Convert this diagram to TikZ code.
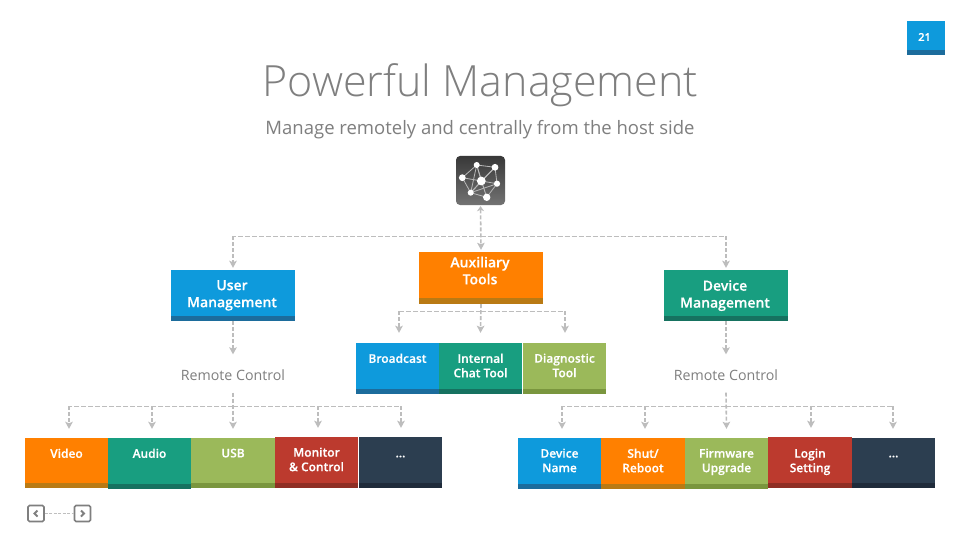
\documentclass[tikz,border=0pt]{standalone}
\usepackage{fontspec}
\setmainfont{Open Sans}
\newfontfamily\lightfont{Open Sans Light}
\newfontfamily\semifont[FakeBold=0.3]{Open Sans Semibold}
\usetikzlibrary{arrows.meta,calc}
\definecolor{cblue}{HTML}{0E9ADC}\definecolor{cblueb}{HTML}{1C6C9C}
\definecolor{corange}{HTML}{FF8000}\definecolor{corangeb}{HTML}{B97A14}
\definecolor{cteal}{HTML}{189E80}\definecolor{ctealb}{HTML}{167260}
\definecolor{cgreen}{HTML}{9BB95A}\definecolor{cgreenb}{HTML}{7A963E}
\definecolor{cred}{HTML}{BC3A2E}\definecolor{credb}{HTML}{8F2E24}
\definecolor{cnavy}{HTML}{2C3E50}\definecolor{cnavyb}{HTML}{1F2B3A}
\definecolor{cline}{HTML}{BDBDBD}\definecolor{ctext}{HTML}{7F7F7F}
\tikzset{
  x=1pt,y=-1pt,
  boxlabel/.style={text=white,font=\semifont\fontsize{12}{14.5}\selectfont,align=center,anchor=north,inner sep=0pt},
  headlabel/.style={text=white,font=\semifont\fontsize{14}{17}\selectfont,align=center,anchor=north,inner sep=0pt},
  plainlabel/.style={text=ctext,font=\fontsize{14.2}{17}\selectfont,inner sep=1pt},
  hline/.style={draw=cline,line width=.9pt,dash pattern=on 5pt off 2pt},
  arrowline/.style={draw=cline,line width=1.6pt,dash pattern=on 4pt off 2pt,-{Stealth[length=7pt,width=7.5pt,inset=1.5pt,fill=cline]}},
  netedge/.style={draw=white!72!black,line width=.8pt},
  netdot/.style={circle,fill=white,inner sep=0pt},
  navbox/.style={draw=ctext,line width=1.6pt,rounded corners=1.5pt,minimum width=16pt,minimum height=16pt,inner sep=0pt},
  navchev/.style={draw=ctext,line width=1.8pt},
}
% name, x1, y1, x2, y2, colour, band height, text y, text
\newcommand{\bx}[9]{%
  \fill[#6b] (#2,#3) rectangle (#4,#5);
  \fill[#6] (#2,#3) rectangle (#4,#5-#7);
  \node[minimum width=#4pt-#2pt,minimum height=#5pt-#3pt,inner sep=0pt] (#1) at ({(#2+#4)/2},{(#3+#5)/2}) {};
  \bxtext{#1}{#8}{#9}}
\newcommand{\bxtext}[3]{\node[boxlabel] (#1-t) at (#1.center |- 0,#2) {\vphantom{Ay}#3};}
\begin{document}
\begin{tikzpicture}
\useasboundingbox (0,0) rectangle (960,540);
\fill[white] (0,0) rectangle (960,540);

% page number
\fill[cblueb] (907,21) rectangle (945,55);
\fill[cblue] (907,21) rectangle (945,50);
\node[text=white,font=\semifont\fontsize{11}{13}\selectfont,inner sep=0pt] (page) at (924.5,37) {21};

\node[text=ctext,font=\lightfont\fontsize{43}{50}\selectfont,inner sep=0pt] (title) at (480.5,85) {Powerful Management};
\node[text=ctext,font=\fontsize{18.5}{22}\selectfont,inner sep=0pt] (sub) at (480,129.5) {Manage remotely and centrally from the host side};

% network icon
\node[minimum width=49pt,minimum height=49pt,inner sep=0pt,rounded corners=4pt,
  top color=black!78,bottom color=black!55,shade] (icon) at (480.5,180.5) {};
\coordinate (n1) at (476.7,165);\coordinate (n2) at (495,167.3);\coordinate (n3) at (462.3,177.7);
\coordinate (n4) at (481.3,181);\coordinate (n5) at (497,183.7);\coordinate (n6) at (470.7,192.7);\coordinate (n7) at (486.7,197.3);
\draw[netedge] (n1)--(n2)--(n5)--(n7)--(n6)--(n3)--(n1)--(n6);
\draw[netedge] (n1)--(n4)--(n5)--(n6)--(n4)--(n3)--(n5);
\draw[netedge] (n2)--(n4)--(n7)--(n1);\draw[netedge] (n2)--(n6);
\foreach \p/\r in {n1/3,n2/3.4,n3/3.4,n4/4.4,n5/3.1,n6/3,n7/3.7}
  \node[netdot,minimum size=2*\r pt] at (\p) {};

% boxes, row 1
\bx{user}{171}{270}{295}{321}{cblue}{5}{0}{}
\bx{aux}{419}{252}{543}{304}{corange}{6}{0}{}
\bx{dev}{664}{270}{788}{321}{cteal}{5}{0}{}
\node[headlabel] (user-l) at (232,280) {User\\Management};
\node[headlabel] (aux-l) at (480,256.5) {Auxiliary\\Tools};
\node[headlabel] (dev-l) at (725,280) {Device\\Management};

% boxes, row 2
\bx{bc}{356}{343}{439}{394}{cblue}{5}{353.5}{Broadcast}
\bx{chat}{439}{343}{522}{394}{cteal}{5}{353.5}{Internal\\Chat Tool}
\bx{diag}{523}{343}{606}{394}{cgreen}{5}{353.5}{Diagnostic\\Tool}

% boxes, row 3 left
\bx{video}{25}{438}{108}{488}{corange}{5}{448.5}{Video}
\bx{audio}{108}{438}{191}{489}{cteal}{5}{448.5}{Audio}
\bx{usb}{191}{438}{275}{488}{cgreen}{5}{448.5}{USB}
\bx{mon}{275}{437}{358}{488}{cred}{5}{447.5}{Monitor\\\& Control}
\bx{more}{359}{437}{442}{488}{cnavy}{5}{448.5}{...}
% boxes, row 3 right
\bx{name}{518}{438}{601}{489}{cblue}{5}{448.5}{Device\\Name}
\bx{shut}{601}{438}{685}{489}{corange}{5}{448.5}{Shut/\\Reboot}
\bx{firm}{685}{438}{768}{489}{cgreen}{5}{448.5}{Firmware\\Upgrade}
\bx{login}{768}{437}{852}{488}{cred}{5}{448.5}{Login\\Setting}
\bx{more2}{852}{438}{935}{488}{cnavy}{5}{448.5}{...}

\node[plainlabel] (rcl) at (233,375) {Remote Control};
\node[plainlabel] (rcr) at (726,375) {Remote Control};

% routing points
\coordinate (hubtop) at (480.5,236);
\coordinate (hubaux) at (480.5,311);
\coordinate (hubl) at (233,406);
\coordinate (hubr) at (726,406);

% connectors, top
\draw[arrowline,{Stealth[length=5pt,width=7pt,inset=1.5pt,fill=cline]}-{Stealth[length=7pt,width=7.5pt,inset=1.5pt,fill=cline]}] ([yshift=-1pt]icon.south) -- ([yshift=2pt]aux.north);
\draw[hline] (hubtop) -- (hubtop -| user.north);
\draw[hline] (hubtop) -- (hubtop -| dev.north);
\draw[arrowline] (hubtop -| user.north) -- ([yshift=2pt]user.north);
\draw[arrowline] (hubtop -| dev.north) -- ([yshift=2pt]dev.north);
% connectors, auxiliary
\draw[arrowline] (aux.south) -- ([yshift=10pt]chat.north);
\coordinate (bcin) at ([xshift=1.5pt,yshift=10pt]bc.north);
\coordinate (diagin) at ([xshift=.5pt,yshift=10pt]diag.north);
\draw[hline] (hubaux) -- (hubaux -| bcin);
\draw[hline] (hubaux) -- (hubaux -| diagin);
\draw[arrowline] (hubaux -| bcin) -- (bcin);
\draw[arrowline] (hubaux -| diagin) -- (diagin);
% connectors, management to label
\draw[arrowline] (user.south) -- ([yshift=14pt]rcl.north);
\draw[arrowline] (dev.south) -- ([yshift=14pt]rcr.north);
% connectors, left fan
\draw[arrowline] ([yshift=-11pt]rcl.south) -- ([yshift=9pt]usb.north);
\foreach \t/\s in {video/2.5,audio/2.5,mon/1.5,more/.5}{
  \coordinate (in) at ([xshift=\s pt,yshift=9pt]\t.north);
  \draw[hline] (hubl) -- (hubl -| in);
  \draw[arrowline] (hubl -| in) -- (in);}
% connectors, right fan
\draw[arrowline] ([yshift=-11pt]rcr.south) -- ([yshift=9pt]firm.north);
\foreach \t/\s in {name/2.5,shut/2,login/1,more2/-.5}{
  \coordinate (in) at ([xshift=\s pt,yshift=9pt]\t.north);
  \draw[hline] (hubr) -- (hubr -| in);
  \draw[arrowline] (hubr -| in) -- (in);}

% navigation
\node[navbox] (prev) at (36,513.5) {};
\node[navbox] (next) at (82.5,513.5) {};
\draw[navchev] (37.5,510.5) -- (34.5,513.5) -- (37.5,516.5);
\draw[navchev] (81,510.5) -- (84,513.5) -- (81,516.5);
\draw[draw=black!25,line width=1pt,dash pattern=on 3pt off 1.5pt] (prev) -- (next);
\end{tikzpicture}
\end{document}
